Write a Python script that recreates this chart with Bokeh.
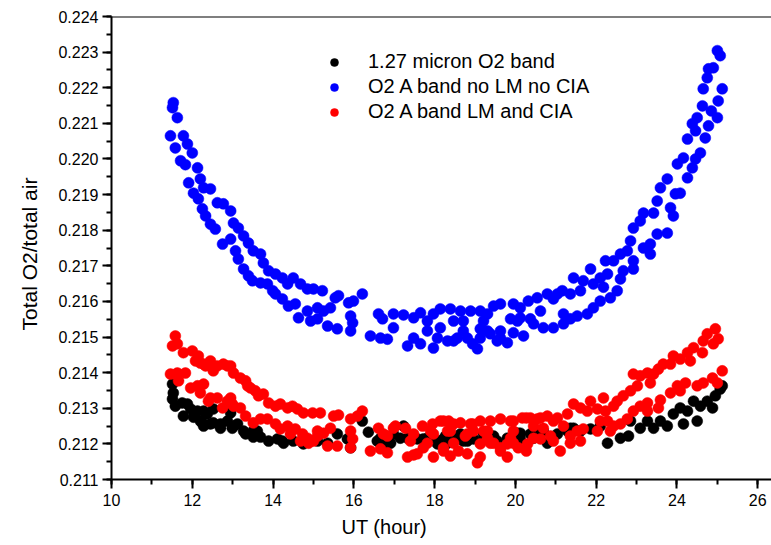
from bokeh.plotting import figure
from bokeh.models import (Range1d, SingleIntervalTicker, NumeralTickFormatter,
                          Span, Legend, LegendItem, Title)
from bokeh.embed import file_html
from bokeh.resources import INLINE

# ---------------- data (UT hour, total O2 / total air) ----------------
black_points = [
    (11.51, 0.21368), (11.53, 0.21343), (11.51, 0.21326), (11.58, 0.21306), (11.75, 0.21315),
    (11.78, 0.21278), (11.88, 0.21312), (11.96, 0.21298), (12.03, 0.21275), (12.13, 0.21292),
    (12.20, 0.21264), (12.28, 0.21250), (12.28, 0.21292), (12.37, 0.21284), (12.25, 0.21259),
    (12.45, 0.21256), (12.52, 0.21298), (12.52, 0.21259), (12.70, 0.21244), (12.70, 0.21256),
    (12.87, 0.21264), (12.95, 0.21287), (12.99, 0.21244), (13.02, 0.21250), (13.12, 0.21256),
    (13.27, 0.21236), (13.32, 0.21228), (13.51, 0.21219), (13.51, 0.21236), (13.61, 0.21236),
    (13.69, 0.21219), (13.89, 0.21208), (14.11, 0.21214), (14.23, 0.21208), (14.26, 0.21202),
    (14.50, 0.21208), (14.75, 0.21200), (15.10, 0.21208), (15.35, 0.21202), (15.59, 0.21228),
    (15.84, 0.21214), (15.92, 0.21189), (16.21, 0.21264), (16.36, 0.21233), (16.58, 0.21208),
    (16.66, 0.21216), (16.83, 0.21202), (16.91, 0.21202), (16.98, 0.21228), (17.15, 0.21216),
    (17.23, 0.21250), (17.33, 0.21216), (17.48, 0.21216), (17.57, 0.21214), (17.72, 0.21214),
    (17.82, 0.21216), (18.07, 0.21208), (18.07, 0.21200), (18.22, 0.21214), (18.27, 0.21222),
    (18.32, 0.21202), (18.39, 0.21216), (18.47, 0.21216), (18.64, 0.21228), (18.71, 0.21208),
    (18.81, 0.21208), (18.96, 0.21214), (19.21, 0.21228), (19.21, 0.21214), (19.38, 0.21208),
    (19.38, 0.21222), (19.46, 0.21222), (19.55, 0.21208), (19.80, 0.21216), (19.95, 0.21214),
    (20.05, 0.21230), (20.12, 0.21230), (20.12, 0.21214), (20.37, 0.21228), (20.45, 0.21216),
    (20.62, 0.21230), (20.69, 0.21236), (20.79, 0.21202), (21.04, 0.21228), (21.29, 0.21236),
    (21.36, 0.21244), (21.44, 0.21244), (21.61, 0.21236), (21.86, 0.21242), (22.10, 0.21250),
    (22.28, 0.21202), (22.60, 0.21216), (22.80, 0.21222), (22.85, 0.21264), (23.09, 0.21244),
    (23.27, 0.21264), (23.42, 0.21244), (23.59, 0.21264), (23.76, 0.21250), (23.91, 0.21284),
    (24.08, 0.21301), (24.16, 0.21256), (24.26, 0.21292), (24.41, 0.21320), (24.50, 0.21264),
    (24.58, 0.21306), (24.75, 0.21320), (24.88, 0.21301), (24.95, 0.21335), (25.07, 0.21354),
    (25.12, 0.21363),
]

blue_points = [
    (11.53, 0.22158), (11.51, 0.22144), (11.63, 0.22116), (11.46, 0.22065), (11.78, 0.22065),
    (11.58, 0.22031), (11.88, 0.22042), (12.00, 0.22017), (11.71, 0.21995), (11.83, 0.21984),
    (12.13, 0.21975), (11.91, 0.21933), (12.20, 0.21944), (12.28, 0.21919), (12.45, 0.21916),
    (12.03, 0.21904), (12.15, 0.21888), (12.25, 0.21860), (12.33, 0.21840), (12.62, 0.21877),
    (12.77, 0.21874), (12.95, 0.21854), (12.45, 0.21817), (12.57, 0.21803), (13.02, 0.21820),
    (13.14, 0.21806), (13.27, 0.21784), (13.39, 0.21764), (12.75, 0.21761), (12.95, 0.21775),
    (13.07, 0.21742), (13.14, 0.21719), (13.51, 0.21742), (13.69, 0.21733), (13.76, 0.21708),
    (13.27, 0.21691), (13.39, 0.21672), (13.49, 0.21658), (13.69, 0.21652), (13.86, 0.21649),
    (13.89, 0.21686), (14.06, 0.21677), (14.23, 0.21666), (14.36, 0.21649), (14.50, 0.21666),
    (14.68, 0.21649), (14.85, 0.21635), (15.00, 0.21635), (15.22, 0.21630), (13.99, 0.21630),
    (14.06, 0.21621), (14.23, 0.21607), (14.38, 0.21587), (14.55, 0.21593), (14.63, 0.21554),
    (14.85, 0.21573), (14.93, 0.21545), (15.10, 0.21582), (15.10, 0.21551), (15.25, 0.21573),
    (15.42, 0.21582), (15.35, 0.21531), (15.59, 0.21523), (15.54, 0.21610), (15.62, 0.21616),
    (15.87, 0.21596), (15.99, 0.21601), (16.21, 0.21621), (15.92, 0.21559), (15.97, 0.21540),
    (15.92, 0.21517), (16.41, 0.21503), (16.66, 0.21497), (16.83, 0.21494), (16.61, 0.21565),
    (16.71, 0.21551), (16.98, 0.21565), (16.98, 0.21526), (17.23, 0.21562), (17.48, 0.21554),
    (17.65, 0.21568), (17.82, 0.21545), (17.33, 0.21475), (17.48, 0.21497), (17.65, 0.21481),
    (17.82, 0.21517), (17.97, 0.21565), (18.14, 0.21579), (18.39, 0.21579), (18.64, 0.21573),
    (18.89, 0.21573), (19.13, 0.21573), (19.31, 0.21565), (19.46, 0.21587), (19.63, 0.21593),
    (19.95, 0.21593), (20.12, 0.21582), (20.32, 0.21601), (20.54, 0.21610), (20.79, 0.21621),
    (20.94, 0.21607), (21.16, 0.21630), (21.36, 0.21621), (21.44, 0.21666), (17.97, 0.21469),
    (18.07, 0.21497), (18.32, 0.21489), (18.56, 0.21497), (18.71, 0.21517), (18.94, 0.21481),
    (19.06, 0.21467), (19.13, 0.21497), (19.38, 0.21509), (19.55, 0.21489), (19.80, 0.21484),
    (19.95, 0.21512), (20.20, 0.21503), (20.45, 0.21537), (20.69, 0.21526), (20.94, 0.21526),
    (21.19, 0.21537), (21.36, 0.21551), (18.14, 0.21526), (18.47, 0.21545), (18.71, 0.21545),
    (19.13, 0.21523), (19.21, 0.21545), (19.63, 0.21517), (19.88, 0.21551), (20.12, 0.21554),
    (20.37, 0.21551), (20.62, 0.21573), (25.00, 0.22304), (25.07, 0.22290), (24.90, 0.22256),
    (24.78, 0.22253), (24.75, 0.22228), (24.65, 0.22197), (25.12, 0.22197), (25.02, 0.22163),
    (24.63, 0.22149), (24.85, 0.22135), (25.00, 0.22116), (24.50, 0.22116), (24.38, 0.22099),
    (24.78, 0.22093), (24.46, 0.22079), (24.26, 0.22056), (24.70, 0.22059), (24.58, 0.22017),
    (24.46, 0.22000), (24.16, 0.22003), (24.01, 0.21986), (24.38, 0.21975), (23.76, 0.21944),
    (23.59, 0.21919), (24.26, 0.21947), (24.08, 0.21904), (23.96, 0.21902), (23.51, 0.21882),
    (23.42, 0.21848), (23.17, 0.21848), (23.09, 0.21826), (22.92, 0.21806), (22.85, 0.21770),
    (23.84, 0.21863), (23.91, 0.21840), (23.76, 0.21792), (23.51, 0.21789), (23.34, 0.21761),
    (23.17, 0.21750), (23.34, 0.21733), (22.77, 0.21742), (22.60, 0.21733), (22.43, 0.21714),
    (22.23, 0.21714), (22.92, 0.21714), (22.67, 0.21686), (22.92, 0.21691), (21.86, 0.21691),
    (22.28, 0.21677), (22.10, 0.21666), (22.60, 0.21663), (21.68, 0.21658), (21.93, 0.21649),
    (22.18, 0.21640), (21.61, 0.21630), (21.04, 0.21621), (22.52, 0.21630), (22.35, 0.21610),
    (22.10, 0.21601), (21.93, 0.21582), (21.78, 0.21565), (21.53, 0.21559), (21.19, 0.21565),
    (20.05, 0.21545), (19.63, 0.21497), (19.31, 0.21517), (18.81, 0.21497), (18.47, 0.21489),
]

red_points = [
    (11.58, 0.21503), (11.51, 0.21475), (11.63, 0.21481), (11.78, 0.21456), (12.00, 0.21461),
    (12.15, 0.21447), (12.08, 0.21433), (12.20, 0.21427), (12.28, 0.21424), (12.45, 0.21433),
    (12.33, 0.21419), (12.52, 0.21405), (12.62, 0.21419), (12.77, 0.21424), (12.87, 0.21419),
    (12.95, 0.21419), (13.02, 0.21399), (13.19, 0.21385), (13.32, 0.21377), (13.37, 0.21363),
    (13.44, 0.21357), (13.56, 0.21349), (13.64, 0.21335), (13.76, 0.21340), (13.89, 0.21315),
    (14.06, 0.21306), (14.18, 0.21312), (14.36, 0.21301), (14.48, 0.21306), (14.60, 0.21298),
    (14.75, 0.21287), (14.98, 0.21287), (15.17, 0.21287), (15.50, 0.21278), (15.62, 0.21281),
    (15.92, 0.21270), (16.09, 0.21278), (16.21, 0.21292),
    (11.46, 0.21396), (11.63, 0.21399), (11.83, 0.21399), (11.66, 0.21377), (11.96, 0.21357),
    (12.13, 0.21363), (12.28, 0.21368), (12.20, 0.21343), (12.45, 0.21329), (12.62, 0.21329),
    (12.40, 0.21320), (12.75, 0.21301), (12.95, 0.21329), (12.87, 0.21320), (12.99, 0.21312),
    (13.02, 0.21306), (13.19, 0.21301), (13.32, 0.21278), (13.51, 0.21259), (13.69, 0.21270),
    (13.86, 0.21270), (14.06, 0.21256), (14.18, 0.21242), (14.36, 0.21250), (14.43, 0.21228),
    (14.55, 0.21242), (14.68, 0.21208), (14.73, 0.21228), (14.85, 0.21216), (14.88, 0.21202),
    (15.00, 0.21208), (15.10, 0.21236), (15.10, 0.21222), (15.25, 0.21230), (15.42, 0.21244),
    (15.35, 0.21194), (15.59, 0.21194), (15.92, 0.21236), (15.97, 0.21214), (15.92, 0.21189),
    (16.41, 0.21180), (16.66, 0.21186), (16.83, 0.21175), (16.61, 0.21244), (16.73, 0.21228),
    (16.83, 0.21222), (16.98, 0.21244), (17.03, 0.21250), (17.28, 0.21244), (17.40, 0.21208),
    (17.48, 0.21228), (17.33, 0.21163), (17.48, 0.21169), (17.57, 0.21172), (17.70, 0.21250),
    (17.72, 0.21189), (17.82, 0.21202), (17.90, 0.21236), (17.95, 0.21256), (17.97, 0.21228),
    (17.97, 0.21163), (18.14, 0.21264), (18.22, 0.21264), (18.22, 0.21189), (18.22, 0.21180),
    (18.32, 0.21236), (18.35, 0.21264), (18.39, 0.21236), (18.39, 0.21166), (18.47, 0.21256),
    (18.47, 0.21202), (18.59, 0.21180), (18.64, 0.21259), (18.76, 0.21222), (18.81, 0.21228),
    (18.81, 0.21172), (18.89, 0.21256), (18.94, 0.21256), (18.96, 0.21236), (19.06, 0.21147),
    (19.13, 0.21264), (19.13, 0.21200), (19.13, 0.21163), (19.21, 0.21236), (19.31, 0.21236),
    (19.31, 0.21216), (19.38, 0.21264), (19.38, 0.21202), (19.46, 0.21202), (19.63, 0.21270),
    (19.63, 0.21189), (19.63, 0.21180), (19.80, 0.21200), (19.80, 0.21163), (19.88, 0.21264),
    (19.88, 0.21216), (19.95, 0.21264), (19.95, 0.21236), (19.95, 0.21202), (20.07, 0.21189),
    (20.17, 0.21273), (20.27, 0.21273), (20.27, 0.21180), (20.30, 0.21200), (20.37, 0.21273),
    (20.45, 0.21250), (20.45, 0.21216), (20.54, 0.21270), (20.62, 0.21273), (20.62, 0.21214),
    (20.69, 0.21244), (20.79, 0.21278), (20.87, 0.21222), (20.94, 0.21264), (20.94, 0.21208),
    (21.04, 0.21273), (21.11, 0.21180), (21.19, 0.21250), (21.29, 0.21284), (21.36, 0.21222),
    (21.36, 0.21202), (21.44, 0.21312), (21.53, 0.21236), (21.61, 0.21301), (21.61, 0.21208),
    (21.68, 0.21242), (21.78, 0.21292), (21.86, 0.21320), (22.03, 0.21298), (22.03, 0.21236),
    (22.10, 0.21264), (22.18, 0.21329), (22.23, 0.21292), (22.28, 0.21264), (22.35, 0.21236),
    (22.43, 0.21306), (22.43, 0.21250), (22.52, 0.21320), (22.60, 0.21256), (22.67, 0.21335),
    (22.77, 0.21270), (22.85, 0.21349), (22.92, 0.21396), (22.92, 0.21292), (23.02, 0.21363),
    (23.09, 0.21391), (23.09, 0.21306), (23.27, 0.21399), (23.27, 0.21315), (23.27, 0.21292),
    (23.34, 0.21371), (23.42, 0.21396), (23.54, 0.21410), (23.54, 0.21301), (23.59, 0.21323),
    (23.66, 0.21424), (23.84, 0.21424), (23.84, 0.21343), (23.91, 0.21447), (24.01, 0.21363),
    (24.08, 0.21438), (24.08, 0.21349), (24.21, 0.21371), (24.26, 0.21456), (24.33, 0.21433),
    (24.41, 0.21470), (24.50, 0.21363), (24.63, 0.21456), (24.65, 0.21489), (24.65, 0.21371),
    (24.75, 0.21509), (24.88, 0.21385), (24.90, 0.21481), (24.95, 0.21523), (25.00, 0.21371),
    (25.02, 0.21495), (25.12, 0.21405),
]

series_names = ["1.27 micron O2 band", "O2 A band no LM no CIA", "O2 A band LM and CIA"]
series_colors = ["#000000", "#0000ff", "#ff0000"]
x_title = "UT (hour)"
y_title = "Total O2/total air"
x_limits = (10, 26.34)
y_limits = (0.211, 0.224)

FONT = "Liberation Sans"

p = figure(width=771, height=545, output_backend="svg", toolbar_location=None,
           x_range=Range1d(*x_limits), y_range=Range1d(*y_limits),
           min_border_left=111, min_border_right=0, min_border_top=16,
           min_border_bottom=66)
p.outline_line_color = None
p.xgrid.visible = False
p.ygrid.visible = False
p.background_fill_color = "white"
p.border_fill_color = "white"

renderers = []
for pts, col in zip([black_points, blue_points, red_points], series_colors):
    xs = [a for a, b in pts]
    ys = [b for a, b in pts]
    r = p.scatter(xs, ys, size=11, fill_color=col, line_color=col, line_width=0.5)
    renderers.append(r)

# axes
p.xaxis.ticker = SingleIntervalTicker(interval=2, num_minor_ticks=2)
p.yaxis.ticker = SingleIntervalTicker(interval=0.001, num_minor_ticks=2)
p.yaxis.formatter = NumeralTickFormatter(format="0.000")
for ax in (p.xaxis[0], p.yaxis[0]):
    ax.axis_line_width = 2
    ax.axis_line_color = "black"
    ax.major_tick_line_width = 2
    ax.minor_tick_line_width = 2
    ax.major_tick_in = 0
    ax.major_tick_out = 9
    ax.minor_tick_in = 0
    ax.minor_tick_out = 5
    ax.major_label_text_font = FONT
    ax.major_label_text_font_size = "16px"
    ax.major_label_text_color = "black"
p.xaxis.major_label_standoff = 5
p.yaxis.major_label_standoff = 4

# axis titles, positioned as in the reference
p.add_layout(Title(text=x_title, align="left", offset=230, vertical_align="bottom",
                   standoff=10, text_font=FONT, text_font_size="20px",
                   text_font_style="normal", text_color="black"), "below")
p.add_layout(Title(text=y_title, align="left", offset=149, vertical_align="bottom",
                   standoff=30, text_font=FONT, text_font_size="21px",
                   text_font_style="normal", text_color="black"), "left")

# top frame line
p.add_layout(Span(location=y_limits[1], dimension="width", line_color="black", line_width=2))

legend = Legend(items=[LegendItem(label=n, renderers=[r]) for n, r in zip(series_names, renderers)],
                location=(213, 356))
legend.border_line_color = None
legend.background_fill_alpha = 0
legend.padding = 0
legend.margin = 0
legend.spacing = 2
legend.glyph_width = 20
legend.glyph_height = 20
legend.label_height = 20
legend.label_standoff = 24
legend.label_text_font = FONT
legend.label_text_font_size = "20px"
legend.label_text_color = "black"
p.add_layout(legend)

open("out.html", "w").write(file_html(p, INLINE))
